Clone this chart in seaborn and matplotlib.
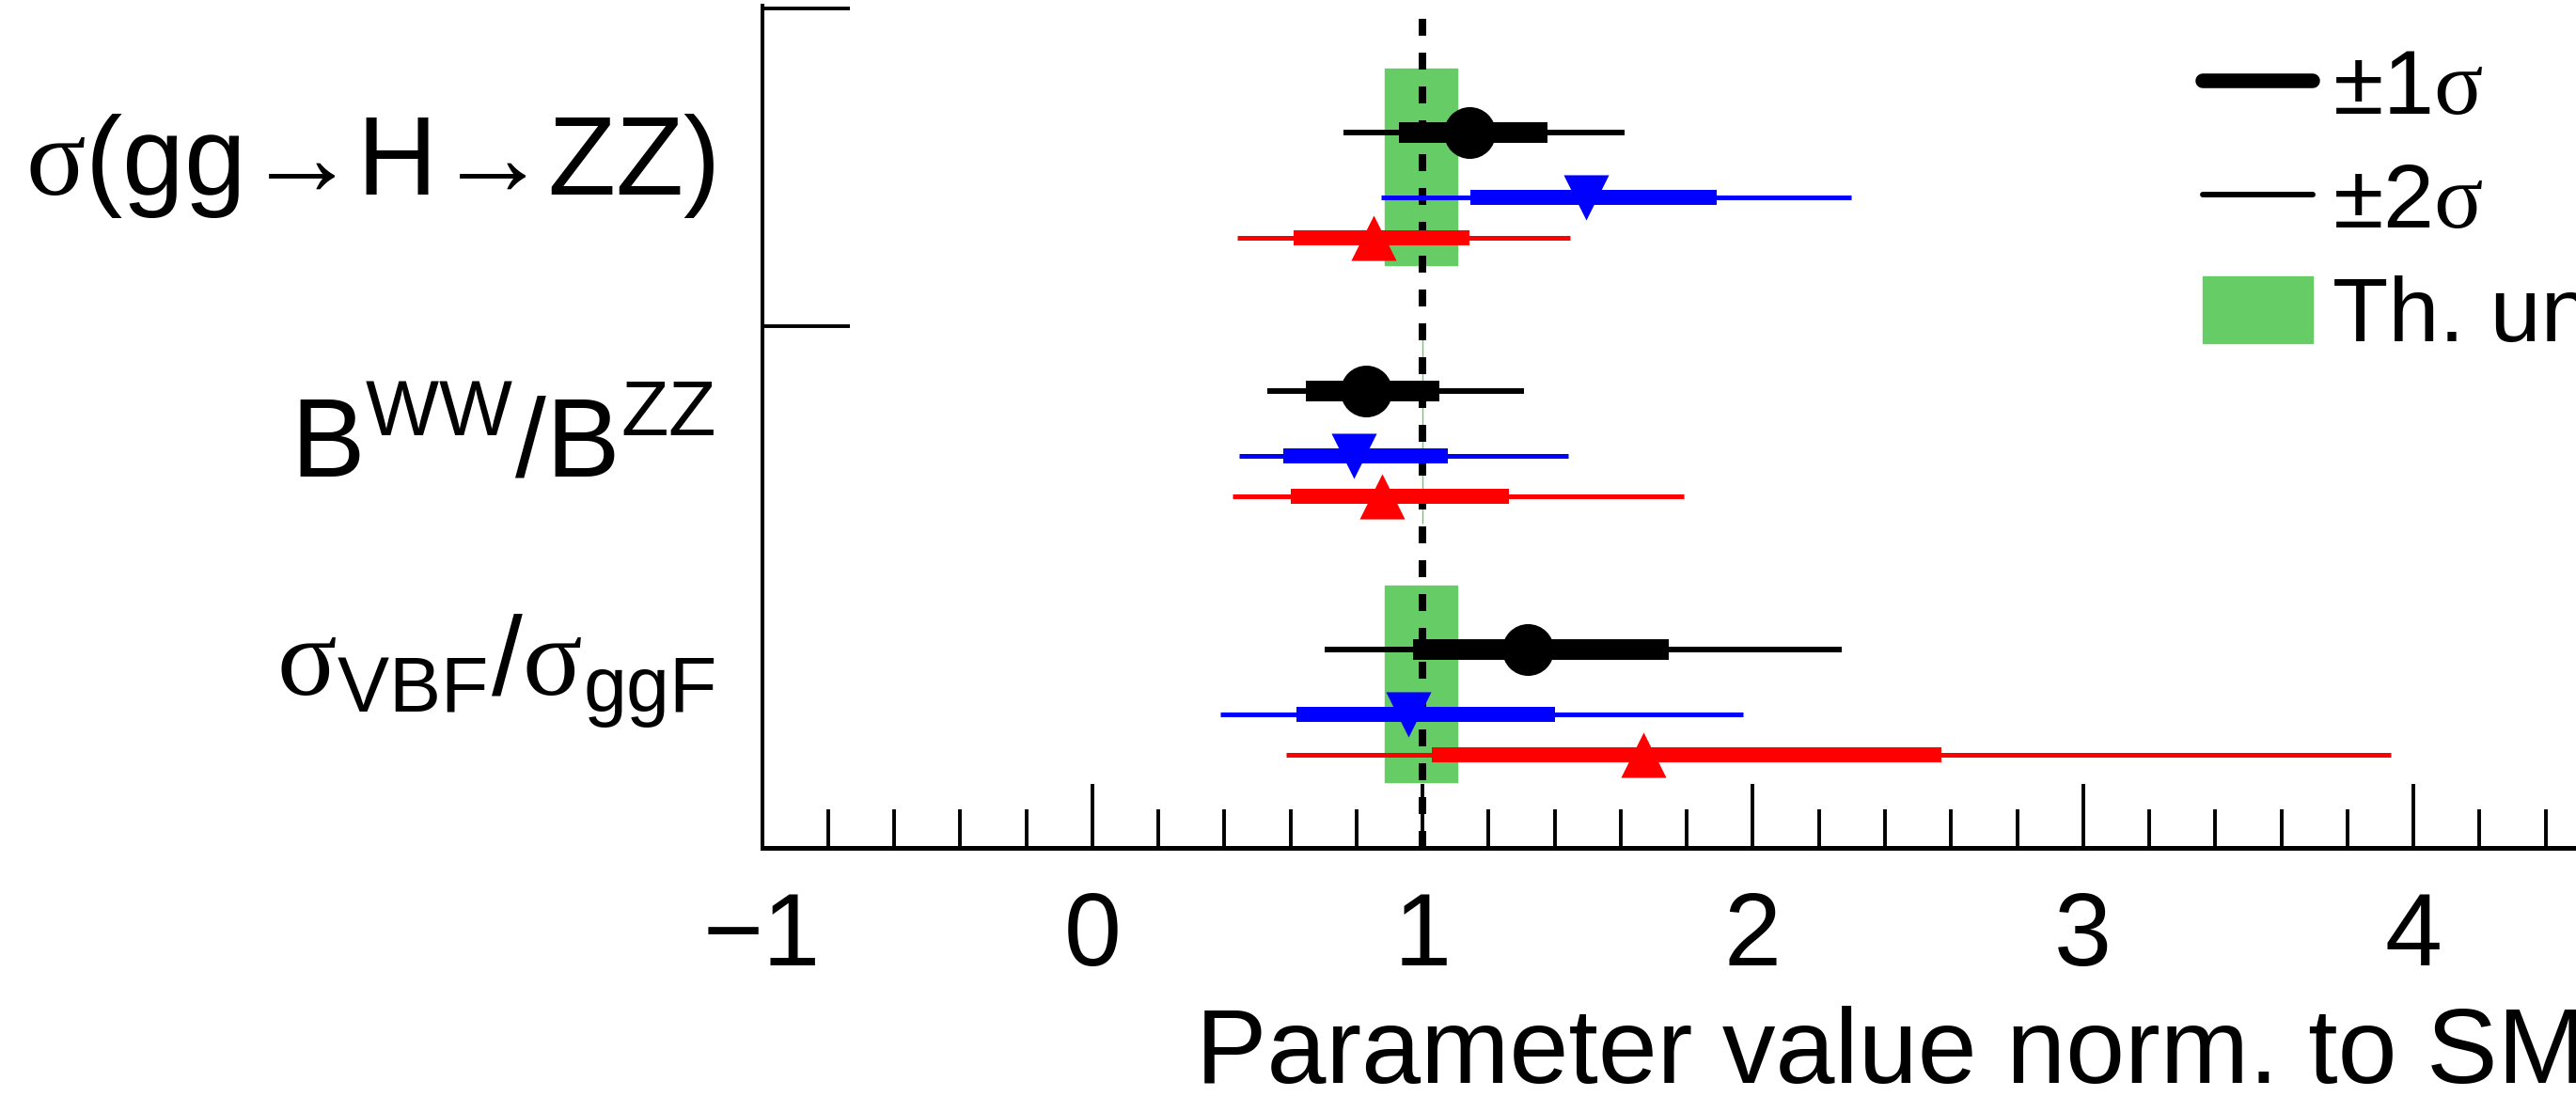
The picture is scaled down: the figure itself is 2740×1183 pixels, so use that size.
import numpy as np
import pandas as pd
import matplotlib
matplotlib.use("Agg")
import matplotlib.pyplot as plt
import seaborn as sns
from matplotlib.lines import Line2D
from matplotlib.patches import Patch

# ---------------- data ----------------
param_labels = [r"$\mathbf{\sigma}$(gg→H→ZZ)",
                r"B$^{\mathrm{WW}}$/B$^{\mathrm{ZZ}}$",
                r"$\mathbf{\sigma}_{\mathrm{VBF}}$/$\mathbf{\sigma}_{\mathrm{ggF}}$"]

black_val = [1.142, 0.829, 1.318]
black_lo1 = [0.928, 0.647, 0.970]
black_hi1 = [1.378, 1.051, 1.745]
black_lo2 = [0.760, 0.530, 0.703]
black_hi2 = [1.611, 1.307, 2.269]

blue_val = [1.495, 0.792, 0.957]
blue_lo1 = [1.145, 0.578, 0.618]
blue_hi1 = [1.890, 1.077, 1.401]
blue_lo2 = [0.875, 0.444, 0.387]
blue_hi2 = [2.298, 1.441, 1.970]

red_val = [0.852, 0.877, 1.668]
red_lo1 = [0.610, 0.601, 1.028]
red_hi1 = [1.142, 1.261, 2.571]
red_lo2 = [0.439, 0.424, 0.586]
red_hi2 = [1.447, 1.791, 3.931]

th_lo = [0.885, 1.0, 0.885]
th_hi = [1.105, 1.0, 1.105]

legend_labels = [r"±1$\mathbf{\sigma}$", r"±2$\mathbf{\sigma}$", "Th. unc."]
xlabel = "Parameter value norm. to SM"

# ---------------- style ----------------
sns.set_theme(style="white")
plt.rcParams.update({
    "font.family": ["Liberation Sans", "DejaVu Sans"],
    "mathtext.fontset": "custom",
    "mathtext.rm": "Liberation Sans",
    "mathtext.sf": "Liberation Sans",
    "mathtext.it": "Liberation Sans:italic",
    "mathtext.bf": "Liberation Serif",
    "axes.unicode_minus": True,
    "text.color": "black",
    "axes.labelcolor": "black",
    "xtick.color": "black",
    "ytick.color": "black",
    "axes.edgecolor": "black",
})

GREEN = "#66cc66"
W, H = 2740, 1183
fig = plt.figure(figsize=(W / 100, H / 100), dpi=100)
unit = 351.3
x0 = 810.6
ax = fig.add_axes([x0 / W, 281 / H, 6 * unit / W, 896 / H])
ax.set_facecolor("white")

rows = np.arange(len(param_labels), dtype=float)
series = [
    ("black", "o", 0.0, black_val, black_lo1, black_hi1, black_lo2, black_hi2, 15.8, 4.3, 1570),
    ("blue", "v", 0.25, blue_val, blue_lo1, blue_hi1, blue_lo2, blue_hi2, 11.5, 3.6, 1200),
    ("red", "^", 0.407, red_val, red_lo1, red_hi1, red_lo2, red_hi2, 11.5, 3.6, 1200),
]

# theory band
ax.barh(rows + 0.133, np.array(th_hi) - np.array(th_lo), left=th_lo, height=0.76,
        color=GREEN, edgecolor=GREEN, linewidth=1.0, zorder=1)

# SM line
ax.axvline(1.0, ymin=0, ymax=(902 - 15) / 896, color="black", lw=5.76,
           linestyle=(0, (2.25, 2.25)), zorder=2)

for color, marker, off, val, lo1, hi1, lo2, hi2, lw1, lw2, s in series:
    y = rows + off
    ax.hlines(y, lo2, hi2, color=color, lw=lw2, zorder=3)
    ax.hlines(y, lo1, hi1, color=color, lw=lw1, zorder=4)
    df = pd.DataFrame({"x": val, "y": y})
    sns.scatterplot(data=df, x="x", y="y", ax=ax, color=color, marker=marker,
                    s=s, linewidth=0, zorder=5, legend=False)

ax.set_xlim(-1, 5)
ax.set_ylim(2.767, -0.491)

# x axis
ax.set_xticks(np.arange(-1, 6, 1))
ax.set_xticks(np.arange(-1, 5.01, 0.2), minor=True)
ax.tick_params(axis="x", which="major", direction="in", length=49, width=2.8,
               labelsize=79, pad=33, color="black", labelcolor="black", bottom=True)
ax.tick_params(axis="x", which="minor", direction="in", length=29.5, width=2.8,
               color="black", bottom=True)
ax.set_xlabel(xlabel, fontsize=81.5, ha="left", va="baseline", color="black")
ax.xaxis.set_label_coords((1272 - x0) / (6 * unit), -0.279)

# y axis: separators as major ticks
ax.set_yticks([-0.48, 0.749])
ax.set_yticklabels([])
ax.tick_params(axis="y", which="major", direction="in", length=67, width=2.8,
               color="black", left=True)

# row labels (baseline placement)
label_base = [0.24, 0.331, 0.175]
lab_tr = matplotlib.transforms.blended_transform_factory(ax.transAxes, ax.transData)
for r, lab, b in zip(rows, param_labels, label_base):
    ax.text(-50 / (6 * unit), r + b, lab, transform=lab_tr, ha="right",
            va="baseline", fontsize=85, color="black")

for side in ["top", "right"]:
    ax.spines[side].set_visible(False)
ax.spines["bottom"].set_linewidth(3.6)
ax.spines["left"].set_linewidth(2.9)
ax.grid(False)
ax.set_ylabel("")

handles = [Line2D([], [], color="black", lw=11.2),
           Line2D([], [], color="black", lw=4.3),
           Patch(facecolor=GREEN, edgecolor=GREEN)]
ax.legend(handles, legend_labels, loc="upper left",
          bbox_to_anchor=(2343 / W, 1 - 51 / H), bbox_transform=fig.transFigure,
          frameon=False, fontsize=70, handlelength=1.2, handletextpad=0.22,
          labelspacing=0.32, borderpad=0, borderaxespad=0, handleheight=0.75,
          labelcolor="black")

fig.savefig("out.png", dpi=100, facecolor="white")
